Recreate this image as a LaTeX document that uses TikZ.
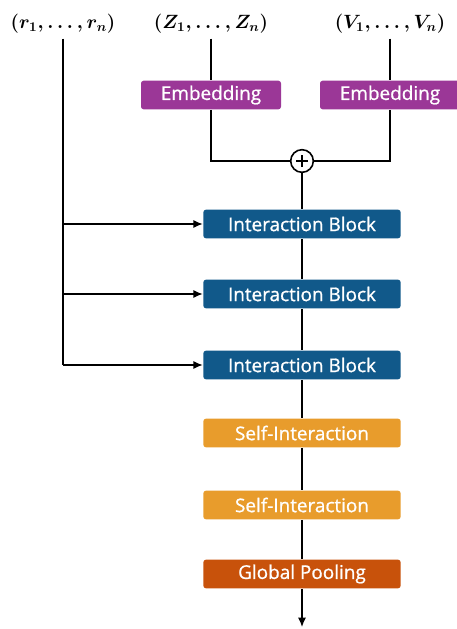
\documentclass[tikz,border=0pt]{standalone}
\usepackage{fontspec}
\usepackage{amsmath}
\newfontfamily\boxfont[FakeBold=0.9]{Open Sans}
\usetikzlibrary{arrows.meta}
\definecolor{embpurple}{HTML}{9B3797}
\definecolor{intblue}{HTML}{11598A}
\definecolor{selforange}{HTML}{E89C2C}
\definecolor{poolred}{HTML}{C8520B}

\tikzset{
block/.style    = {rectangle, rounded corners=2pt, text=white, inner sep=0pt, minimum height=21.5pt, font=\boxfont\fontsize{14.2}{16}\selectfont},
}

\begin{document}
\begin{tikzpicture}[x=0.75pt, y=-0.75pt, line width=0.9pt, >={Latex[length=7pt,width=6pt]}]
    \useasboundingbox (0,0) rectangle (457,629);
    \tikzset{input/.style={font=\fontsize{14}{16}\selectfont\boldmath}}
    % inputs
    \node[input] (r) at (63,24) {$(r_1,\ldots,r_n)$};
    \node[input] (z) at (211,24) {$(Z_1,\ldots,Z_n)$};
    \node[input] (v) at (390,24) {$(V_1,\ldots,V_n)$};
    % embeddings
    \node[block, fill=embpurple, minimum width=105pt] (embz) at (211,95) {Embedding};
    \node[block, fill=embpurple, minimum width=105pt] (embv) at (390,95) {Embedding};
    \node[circle, draw, inner sep=0pt, minimum size=17pt, line width=1.2pt] (plus) at (302,161) {};
    \draw[line width=1.3pt] ([xshift=-4.5pt]plus.center) -- ([xshift=4.5pt]plus.center)
        ([yshift=-4.5pt]plus.center) -- ([yshift=4.5pt]plus.center);
    % main stack
    \node[block, fill=intblue, minimum width=148pt] (ib1) at (302,224) {Interaction Block};
    \node[block, fill=intblue, minimum width=148pt] (ib2) at (302,294) {Interaction Block};
    \node[block, fill=intblue, minimum width=148pt] (ib3) at (302,365) {Interaction Block};
    \node[block, fill=selforange, minimum width=148pt] (si1) at (302,433) {Self-Interaction};
    \node[block, fill=selforange, minimum width=148pt] (si2) at (302,505) {Self-Interaction};
    \node[block, fill=poolred, minimum width=148pt] (pool) at (302,574) {Global Pooling};
    \coordinate (rend) at (r.south |- ib3.west);
    \coordinate (out) at (302,627);

    \draw (z.south) -- (embz.north);
    \draw (v.south) -- (embv.north);
    \draw (embz.south) |- (plus.west);
    \draw (embv.south) |- (plus.east);
    \draw (plus) -- (ib1);
    \draw (ib1) -- (ib2);
    \draw (ib2) -- (ib3);
    \draw (ib3) -- (si1);
    \draw (si1) -- (si2);
    \draw (si2) -- (pool);
    \draw[->] (pool) -- (out);
    \draw (r.south) -- (rend);
    \draw[->] (r.south |- ib1.west) -- (ib1.west);
    \draw[->] (r.south |- ib2.west) -- (ib2.west);
    \draw[->] (rend) -- (ib3.west);
\end{tikzpicture}
\end{document}
